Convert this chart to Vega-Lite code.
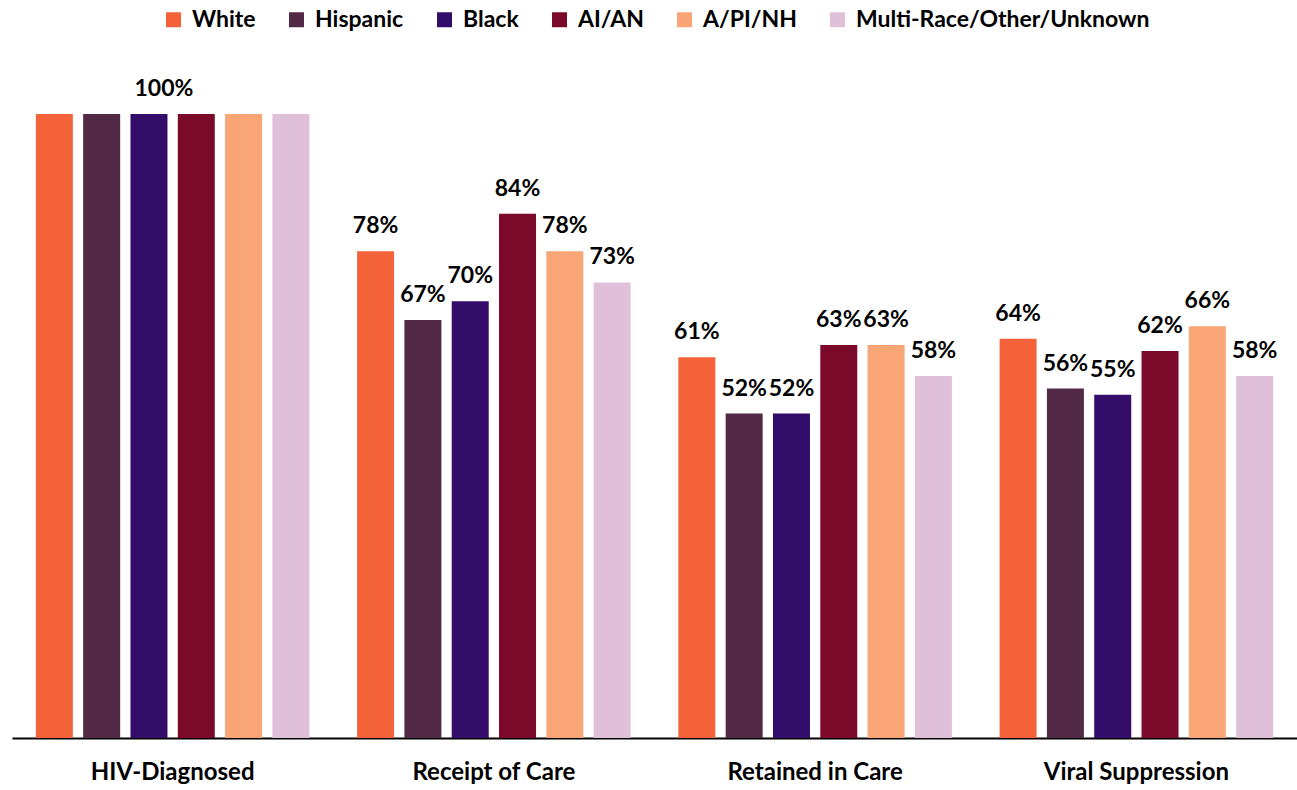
{
  "$schema": "https://vega.github.io/schema/vega-lite/v6.json",
  "autosize": {"type": "none"},
  "padding": {"left": 12, "top": 114, "right": 0, "bottom": 52},
  "width": 1285,
  "height": 624,
  "background": "white",
  "config": {"view": {"stroke": null}, "font": "Lato"},
  "data": {"values": [
    {"stage": "HIV-Diagnosed", "race": "White", "pct": 100, "label": ""},
    {"stage": "HIV-Diagnosed", "race": "Hispanic", "pct": 100, "label": ""},
    {"stage": "HIV-Diagnosed", "race": "Black", "pct": 100, "label": "100%"},
    {"stage": "HIV-Diagnosed", "race": "AI/AN", "pct": 100, "label": ""},
    {"stage": "HIV-Diagnosed", "race": "A/PI/NH", "pct": 100, "label": ""},
    {"stage": "HIV-Diagnosed", "race": "Multi-Race/Other/Unknown", "pct": 100, "label": ""},
    {"stage": "Receipt of Care", "race": "White", "pct": 78, "label": "78%"},
    {"stage": "Receipt of Care", "race": "Hispanic", "pct": 67, "label": "67%"},
    {"stage": "Receipt of Care", "race": "Black", "pct": 70, "label": "70%"},
    {"stage": "Receipt of Care", "race": "AI/AN", "pct": 84, "label": "84%"},
    {"stage": "Receipt of Care", "race": "A/PI/NH", "pct": 78, "label": "78%"},
    {"stage": "Receipt of Care", "race": "Multi-Race/Other/Unknown", "pct": 73, "label": "73%"},
    {"stage": "Retained in Care", "race": "White", "pct": 61, "label": "61%"},
    {"stage": "Retained in Care", "race": "Hispanic", "pct": 52, "label": "52%"},
    {"stage": "Retained in Care", "race": "Black", "pct": 52, "label": "52%"},
    {"stage": "Retained in Care", "race": "AI/AN", "pct": 63, "label": "63%"},
    {"stage": "Retained in Care", "race": "A/PI/NH", "pct": 63, "label": "63%"},
    {"stage": "Retained in Care", "race": "Multi-Race/Other/Unknown", "pct": 58, "label": "58%"},
    {"stage": "Viral Suppression", "race": "White", "pct": 64, "label": "64%"},
    {"stage": "Viral Suppression", "race": "Hispanic", "pct": 56, "label": "56%"},
    {"stage": "Viral Suppression", "race": "Black", "pct": 55, "label": "55%"},
    {"stage": "Viral Suppression", "race": "AI/AN", "pct": 62, "label": "62%"},
    {"stage": "Viral Suppression", "race": "A/PI/NH", "pct": 66, "label": "66%"},
    {"stage": "Viral Suppression", "race": "Multi-Race/Other/Unknown", "pct": 58, "label": "58%"}
  ]},
  "encoding": {
    "x": {
      "field": "stage", "type": "nominal", "sort": null,
      "scale": {"paddingInner": 0, "paddingOuter": 0},
      "axis": {
        "title": null, "labelAngle": 0, "ticks": false,
        "domainColor": "black", "domainWidth": 2,
        "labelFont": "Lato", "labelFontSize": 24, "labelFontWeight": "bold",
        "labelColor": "black", "labelPadding": 22, "labelLimit": 400
      }
    },
    "xOffset": {
      "field": "race", "type": "nominal", "sort": null,
      "scale": {"paddingInner": 0.218, "paddingOuter": 0.504}
    },
    "y": {
      "field": "pct", "type": "quantitative",
      "scale": {"domain": [0, 100]},
      "axis": null
    }
  },
  "layer": [
    {
      "mark": {"type": "bar"},
      "encoding": {
        "color": {
          "field": "race", "type": "nominal", "sort": null,
          "scale": {
            "domain": ["White", "Hispanic", "Black", "AI/AN", "A/PI/NH", "Multi-Race/Other/Unknown"],
            "range": ["#F4623A", "#532A45", "#330D69", "#7B0A2A", "#F9A576", "#E0C0D8"]
          },
          "legend": {
            "title": null, "orient": "none", "direction": "horizontal",
            "legendX": 150, "legendY": -106,
            "symbolType": "square", "symbolSize": 225, "symbolStrokeWidth": 0,
            "labelFont": "Lato", "labelFontSize": 23, "labelFontWeight": "bold",
            "labelColor": "black", "labelOffset": 7, "columnPadding": 29,
            "labelLimit": 500
          }
        }
      }
    },
    {
      "mark": {"type": "text", "baseline": "alphabetic", "dy": -18, "dx": 15, "font": "Lato", "fontSize": 23, "fontWeight": "bold", "color": "black"},
      "transform": [{"filter": "datum.stage == 'HIV-Diagnosed'"}],
      "encoding": {
        "text": {"field": "label", "type": "nominal"},
        "detail": {"field": "race"}
      }
    },
    {
      "mark": {"type": "text", "baseline": "alphabetic", "dy": -18, "font": "Lato", "fontSize": 23, "fontWeight": "bold", "color": "black"},
      "transform": [{"filter": "datum.stage != 'HIV-Diagnosed'"}],
      "encoding": {
        "text": {"field": "label", "type": "nominal"},
        "detail": {"field": "race"}
      }
    }
  ]
}
